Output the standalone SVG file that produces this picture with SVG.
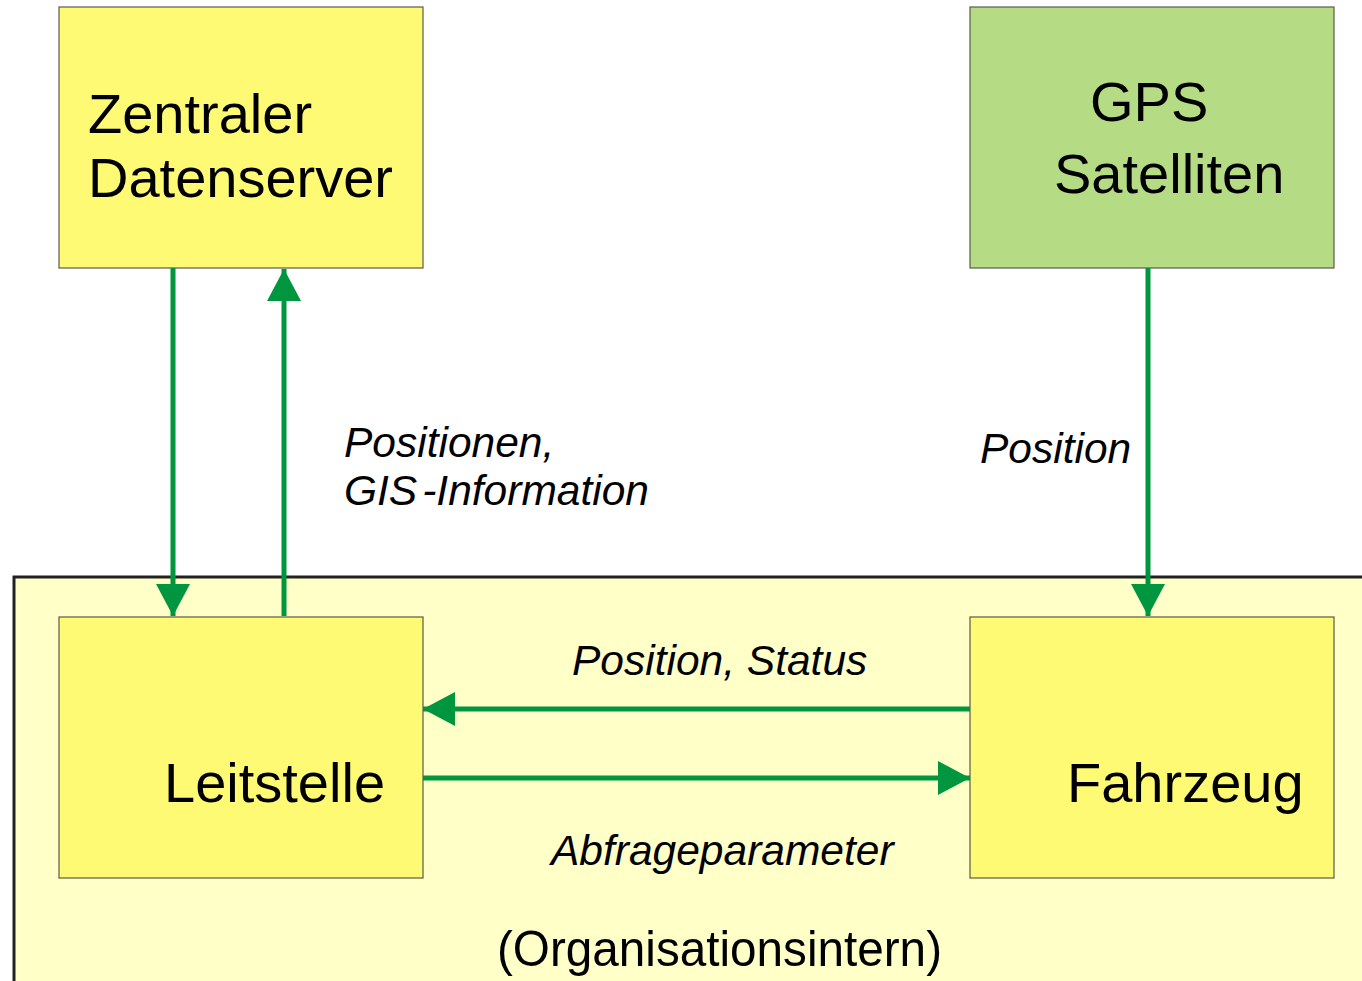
<svg xmlns="http://www.w3.org/2000/svg" width="1362" height="981" viewBox="0 0 1362 981">
  <defs>
    <style>
      text { font-family: "Liberation Sans", Arial, sans-serif; fill: #000; }
      .big { font-size: 56px; }
      .lbl { font-size: 42.5px; font-style: italic; }
      .box { fill: #FEFA74; stroke: #5a5a4a; stroke-width: 1.2; }
      .gps { fill: #B5DC84; stroke: #5a5a4a; stroke-width: 1.2; }
      .conn { stroke: #009640; stroke-width: 5; fill: none; }
    </style>
    <marker id="ah" markerUnits="userSpaceOnUse" markerWidth="32" markerHeight="34" refX="32" refY="17" orient="auto">
      <path d="M0,0 L32,17 L0,34 Z" fill="#009640"/>
    </marker>
  </defs>
  <rect x="0" y="0" width="1362" height="981" fill="#ffffff"/>

  <g id="organisationsintern">
    <rect x="14" y="577" width="1400" height="500" fill="#FFFFC8" stroke="#222222" stroke-width="3"/>
    <text x="497" y="966" font-size="50" textLength="445" lengthAdjust="spacingAndGlyphs">(Organisationsintern)</text>
  </g>

  <g id="zentraler-datenserver">
    <rect class="box" x="59" y="7" width="364" height="261"/>
    <text class="big" x="88" y="133">Zentraler</text>
    <text class="big" x="88" y="197">Datenserver</text>
  </g>

  <g id="gps-satelliten">
    <rect class="gps" x="970" y="7" width="364" height="261"/>
    <text class="big" x="1090" y="121" font-size="55">GPS</text>
    <text class="big" x="1054" y="193" font-size="55">Satelliten</text>
  </g>

  <g id="leitstelle">
    <rect class="box" x="59" y="617" width="364" height="261"/>
    <text class="big" x="164" y="802">Leitstelle</text>
  </g>

  <g id="fahrzeug">
    <rect class="box" x="970" y="617" width="364" height="261"/>
    <text class="big" x="1067" y="802">Fahrzeug</text>
  </g>

  <g id="connectors">
    <line class="conn" x1="173" y1="268" x2="173" y2="616" marker-end="url(#ah)"/>
    <line class="conn" x1="284" y1="616" x2="284" y2="269" marker-end="url(#ah)"/>
    <line class="conn" x1="1148" y1="268" x2="1148" y2="616" marker-end="url(#ah)"/>
    <line class="conn" x1="970" y1="709" x2="423" y2="709" marker-end="url(#ah)"/>
    <line class="conn" x1="423" y1="778" x2="970" y2="778" marker-end="url(#ah)"/>
  </g>

  <g id="labels">
    <text class="lbl" x="344" y="457">Positionen,</text>
    <text class="lbl" x="344" y="505"><tspan>GIS</tspan><tspan dx="5">-Information</tspan></text>
    <text class="lbl" x="980" y="463">Position</text>
    <text class="lbl" x="572" y="675">Position, Status</text>
    <text class="lbl" x="551" y="865">Abfrageparameter</text>
  </g>
</svg>
